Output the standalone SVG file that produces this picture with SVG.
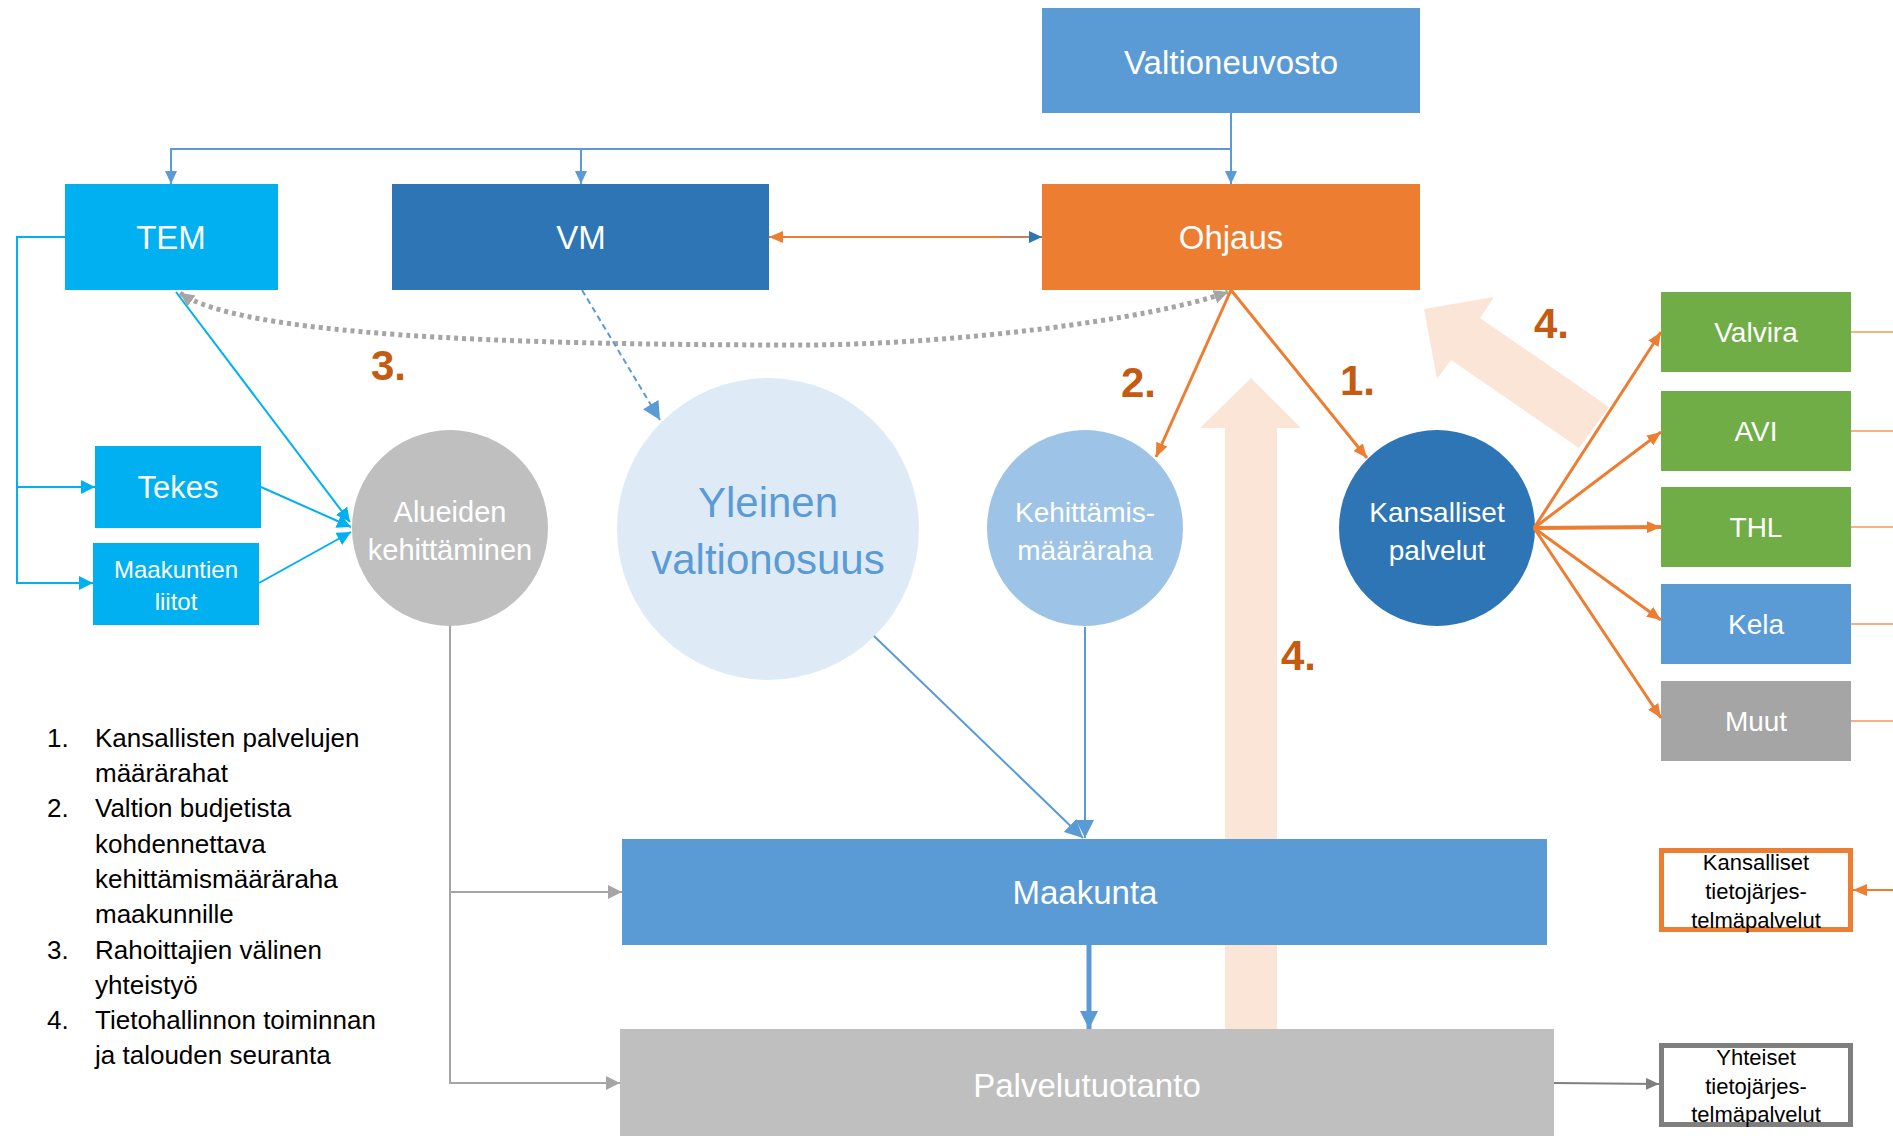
<svg xmlns="http://www.w3.org/2000/svg" width="1893" height="1136" viewBox="0 0 1893 1136">
<style>
text{font-family:"Liberation Sans",Arial,sans-serif;text-anchor:middle;dominant-baseline:central}
.w{fill:#FFFFFF}
.lbl{font-size:33px}
.num{font-size:42px;font-weight:bold;fill:#C55A11;text-anchor:start;dominant-baseline:auto}
.list{font-size:26px;fill:#000000;text-anchor:start;dominant-baseline:auto}
.small{font-size:22px;fill:#000000}
.c{fill:none}
</style>
<defs>
<marker id="mBlue" markerUnits="userSpaceOnUse" markerWidth="13" markerHeight="12" refX="13" refY="6" orient="auto"><path d="M0,0 L13,6 L0,12 z" fill="#5B9BD5"/></marker>
<marker id="mBlueBig" markerUnits="userSpaceOnUse" markerWidth="18" markerHeight="18" refX="18" refY="9" orient="auto"><path d="M0,0 L18,9 L0,18 z" fill="#5B9BD5"/></marker>
<marker id="mCyan" markerUnits="userSpaceOnUse" markerWidth="14" markerHeight="14" refX="14" refY="7" orient="auto"><path d="M0,0 L14,7 L0,14 z" fill="#00B0F0"/></marker>
<marker id="mOrange" markerUnits="userSpaceOnUse" markerWidth="14" markerHeight="12" refX="14" refY="6" orient="auto"><path d="M0,0 L14,6 L0,12 z" fill="#ED7D31"/></marker>
<marker id="mDBlue" markerUnits="userSpaceOnUse" markerWidth="13" markerHeight="12" refX="13" refY="6" orient="auto"><path d="M0,0 L13,6 L0,12 z" fill="#2E75B6"/></marker>
<marker id="mGray" markerUnits="userSpaceOnUse" markerWidth="14" markerHeight="14" refX="14" refY="7" orient="auto-start-reverse"><path d="M0,0 L14,7 L0,14 z" fill="#A5A5A5"/></marker>
<marker id="mDGray" markerUnits="userSpaceOnUse" markerWidth="13" markerHeight="12" refX="13" refY="6" orient="auto"><path d="M0,0 L13,6 L0,12 z" fill="#7F7F7F"/></marker>
</defs>

<g id="big-arrows" fill="#FBE5D6">
<polygon id="arrow-up" points="1251,378 1301,428 1277,428 1277,1029 1225,1029 1225,428 1200,428"/>
<polygon id="arrow-diag" points="1424,309 1494,297 1480,318 1609,407 1579,448 1451,360 1437,379"/>
</g>

<g id="node-valtioneuvosto"><rect x="1042" y="8" width="378" height="105" fill="#5B9BD5"/><text class="w lbl" x="1231" y="62">Valtioneuvosto</text></g>
<g id="node-tem"><rect x="65" y="184" width="213" height="106" fill="#00B0F0"/><text class="w lbl" x="171" y="237">TEM</text></g>
<g id="node-vm"><rect x="392" y="184" width="377" height="106" fill="#2E75B6"/><text class="w lbl" x="581" y="237">VM</text></g>
<g id="node-ohjaus"><rect x="1042" y="184" width="378" height="106" fill="#ED7D31"/><text class="w lbl" x="1231" y="237">Ohjaus</text></g>
<g id="node-tekes"><rect x="95" y="446" width="166" height="82" fill="#00B0F0"/><text class="w" x="178" y="487" font-size="31">Tekes</text></g>
<g id="node-maakuntien-liitot"><rect x="93" y="543" width="166" height="82" fill="#00B0F0"/><text class="w" x="176" y="569" font-size="24">Maakuntien</text><text class="w" x="176" y="601" font-size="24">liitot</text></g>
<g id="node-alueiden"><circle cx="450" cy="528" r="98" fill="#BFBFBF"/><text class="w" x="450" y="512" font-size="29">Alueiden</text><text class="w" x="450" y="550" font-size="29">kehittäminen</text></g>
<g id="node-yleinen"><circle cx="768" cy="529" r="151" fill="#DEEBF7"/><text x="768" y="502" font-size="42" fill="#5B9BD5">Yleinen</text><text x="768" y="559" font-size="42" fill="#5B9BD5">valtionosuus</text></g>
<g id="node-kehittamis"><circle cx="1085" cy="528" r="98" fill="#9DC3E6"/><text class="w" x="1085" y="512" font-size="28">Kehittämis-</text><text class="w" x="1085" y="550" font-size="28">määräraha</text></g>
<g id="node-kansalliset"><circle cx="1437" cy="528" r="98" fill="#2E75B6"/><text class="w" x="1437" y="512" font-size="28">Kansalliset</text><text class="w" x="1437" y="550" font-size="28">palvelut</text></g>
<g id="node-valvira"><rect x="1661" y="292" width="190" height="80" fill="#70AD47"/><text class="w" x="1756" y="332" font-size="28">Valvira</text></g>
<g id="node-avi"><rect x="1661" y="391" width="190" height="80" fill="#70AD47"/><text class="w" x="1756" y="431" font-size="28">AVI</text></g>
<g id="node-thl"><rect x="1661" y="487" width="190" height="80" fill="#70AD47"/><text class="w" x="1756" y="527" font-size="28">THL</text></g>
<g id="node-kela"><rect x="1661" y="584" width="190" height="80" fill="#5B9BD5"/><text class="w" x="1756" y="624" font-size="28">Kela</text></g>
<g id="node-muut"><rect x="1661" y="681" width="190" height="80" fill="#A5A5A5"/><text class="w" x="1756" y="721" font-size="28">Muut</text></g>
<g id="node-maakunta"><rect x="622" y="839" width="925" height="106" fill="#5B9BD5"/><text class="w lbl" x="1085" y="892">Maakunta</text></g>
<g id="node-palvelutuotanto"><rect x="620" y="1029" width="934" height="107" fill="#BFBFBF"/><text class="w lbl" x="1087" y="1085">Palvelutuotanto</text></g>
<g id="node-kansalliset-tieto"><rect x="1661.5" y="850.5" width="189" height="79" fill="#FFFFFF" stroke="#ED7D31" stroke-width="5"/><text class="small" x="1756" y="862">Kansalliset</text><text class="small" x="1756" y="891">tietojärjes-</text><text class="small" x="1756" y="920">telmäpalvelut</text></g>
<g id="node-yhteiset-tieto"><rect x="1661.5" y="1045.5" width="189" height="79" fill="#FFFFFF" stroke="#7F7F7F" stroke-width="5"/><text class="small" x="1756" y="1057">Yhteiset</text><text class="small" x="1756" y="1086">tietojärjes-</text><text class="small" x="1756" y="1114">telmäpalvelut</text></g>

<g id="connectors" fill="none">
<path d="M1231,113 V184" stroke="#5B9BD5" stroke-width="2" marker-end="url(#mBlue)"/>
<path d="M1231,149 H171 V184" stroke="#5B9BD5" stroke-width="2" marker-end="url(#mBlue)"/>
<path d="M581,149 V184" stroke="#5B9BD5" stroke-width="2" marker-end="url(#mBlue)"/>
<path d="M800,237 H1042" stroke="#C0805A" stroke-width="2" marker-end="url(#mDBlue)"/>
<path d="M1000,237 H769" stroke="#ED7D31" stroke-width="2" marker-end="url(#mOrange)"/>
<path d="M65,237 H17 V583 H93" stroke="#00B0F0" stroke-width="2" marker-end="url(#mCyan)"/>
<path d="M17,487 H95" stroke="#00B0F0" stroke-width="2" marker-end="url(#mCyan)"/>
<path d="M176,292 L350,522" stroke="#00B0F0" stroke-width="2" marker-end="url(#mCyan)"/>
<path d="M261,487 L351,527" stroke="#00B0F0" stroke-width="2" marker-end="url(#mCyan)"/>
<path d="M259,583 L351,532" stroke="#00B0F0" stroke-width="2" marker-end="url(#mCyan)"/>
<path d="M180,293 C240,335 500,345 800,345 C950,345 1150,320 1228,292" stroke="#A5A5A5" stroke-width="5" stroke-dasharray="4 4" marker-start="url(#mGray)" marker-end="url(#mGray)"/>
<path d="M582,290 L660,420" stroke="#5B9BD5" stroke-width="2" stroke-dasharray="6 4" marker-end="url(#mBlueBig)"/>
<path d="M1231,290 L1156,457" stroke="#ED7D31" stroke-width="3" marker-end="url(#mOrange)"/>
<path d="M1231,290 L1367,458" stroke="#ED7D31" stroke-width="3" marker-end="url(#mOrange)"/>
<path d="M1534,528 L1661,332" stroke="#ED7D31" stroke-width="3" marker-end="url(#mOrange)"/>
<path d="M1534,528 L1661,432" stroke="#ED7D31" stroke-width="3" marker-end="url(#mOrange)"/>
<path d="M1534,528 L1661,527" stroke="#ED7D31" stroke-width="4" marker-end="url(#mOrange)"/>
<path d="M1534,528 L1661,620" stroke="#ED7D31" stroke-width="3" marker-end="url(#mOrange)"/>
<path d="M1534,528 L1661,718" stroke="#ED7D31" stroke-width="3" marker-end="url(#mOrange)"/>
<path d="M1851,332 H1893 M1851,431 H1893 M1851,527 H1893 M1851,624 H1893 M1851,721 H1893" stroke="#F4B183" stroke-width="2"/>
<path d="M1893,890 H1853" stroke="#ED7D31" stroke-width="2" marker-end="url(#mOrange)"/>
<path d="M874,636 L1083,838" stroke="#5B9BD5" stroke-width="2" marker-end="url(#mBlueBig)"/>
<path d="M1085,627 V838" stroke="#5B9BD5" stroke-width="2" marker-end="url(#mBlueBig)"/>
<path d="M1089,945 V1029" stroke="#5B9BD5" stroke-width="5" marker-end="url(#mBlueBig)"/>
<path d="M450,626 V1083 H620" stroke="#A5A5A5" stroke-width="2" marker-end="url(#mGray)"/>
<path d="M450,892 H622" stroke="#A5A5A5" stroke-width="2" marker-end="url(#mGray)"/>
<path d="M1554,1083 L1659,1084" stroke="#7F7F7F" stroke-width="2" marker-end="url(#mDGray)"/>
</g>

<g id="numbers">
<text class="num" x="371" y="380">3.</text>
<text class="num" x="1121" y="397">2.</text>
<text class="num" x="1340" y="395">1.</text>
<text class="num" x="1534" y="338">4.</text>
<text class="num" x="1281" y="670">4.</text>
</g>

<g id="legend">
<text class="list" x="47" y="747">1.</text><text class="list" x="95" y="747">Kansallisten palvelujen</text>
<text class="list" x="95" y="782">määrärahat</text>
<text class="list" x="47" y="817">2.</text><text class="list" x="95" y="817">Valtion budjetista</text>
<text class="list" x="95" y="853">kohdennettava</text>
<text class="list" x="95" y="888">kehittämismääräraha</text>
<text class="list" x="95" y="923">maakunnille</text>
<text class="list" x="47" y="959">3.</text><text class="list" x="95" y="959">Rahoittajien välinen</text>
<text class="list" x="95" y="994">yhteistyö</text>
<text class="list" x="47" y="1029">4.</text><text class="list" x="95" y="1029">Tietohallinnon toiminnan</text>
<text class="list" x="95" y="1064">ja talouden seuranta</text>
</g>
</svg>
